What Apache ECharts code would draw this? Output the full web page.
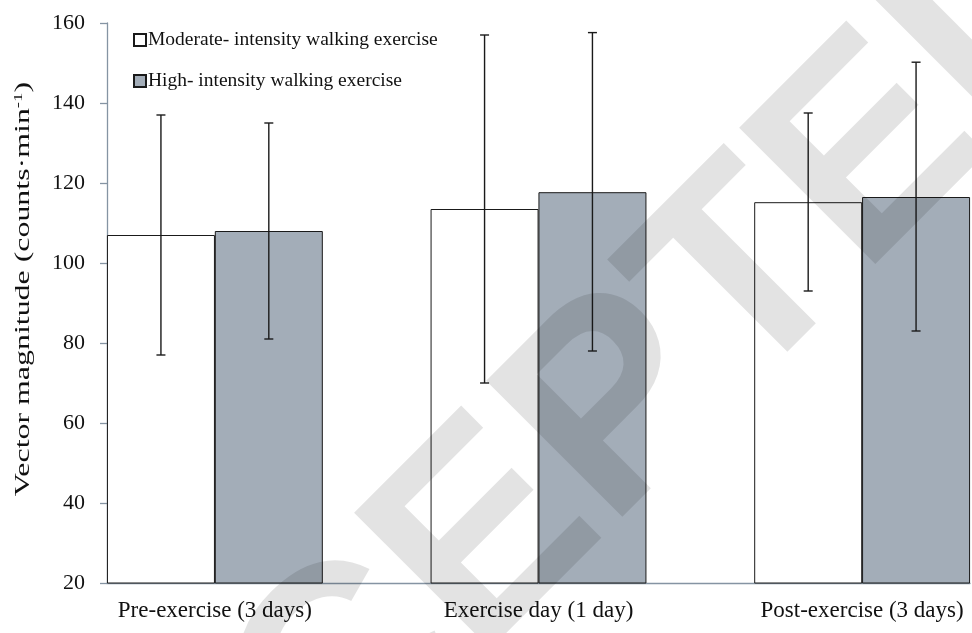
<!DOCTYPE html>
<html>
<head>
<meta charset="utf-8">
<script src="https://cdn.jsdelivr.net/npm/echarts@6/dist/echarts.min.js"></script>
<style>
  html, body { margin: 0; padding: 0; background: #fff; }
  #chart { width: 972px; height: 633px; }
</style>
</head>
<body>
<div id="chart"></div>
<script>
// group labels and values
const categories = ['Pre-exercise (3 days)', 'Exercise day (1 day)', 'Post-exercise (3 days)'];
const seriesNames = ['Moderate- intensity walking exercise', 'High- intensity walking exercise'];
const moderateMean = [107, 113.5, 115.2];
const moderateLow = [77, 70, 93];
const moderateHigh = [137, 157, 137.5];
const highMean = [108, 117.7, 116.5];
const highLow = [81, 78, 83];
const highHigh = [135, 157.6, 150.2];
const yTitle = 'Vector magnitude (counts·min{sup|-1})';
const watermark = 'ACCEPTED';

const serif = '"Liberation Serif", "Times New Roman", serif';
const axisColor = '#8594a3';
const ink = '#1a1a1a';
const shift = 1 / 6; // half a bar, in category units

function barData(means, dir) {
  return means.map((v, i) => [i + dir * shift, v]);
}
function errData(lows, highs, dir) {
  return lows.map((lo, i) => [i + dir * shift, lo, highs[i]]);
}

function renderErr(params, api) {
  const x = api.value(0);
  const lo = api.coord([x, api.value(1)]);
  const hi = api.coord([x, api.value(2)]);
  const cap = 4.5;
  const st = { stroke: ink, lineWidth: 1.4 };
  return {
    type: 'group',
    children: [
      { type: 'line', shape: { x1: lo[0], y1: lo[1], x2: hi[0], y2: hi[1] }, style: st },
      { type: 'line', shape: { x1: lo[0] - cap, y1: lo[1], x2: lo[0] + cap, y2: lo[1] }, style: st },
      { type: 'line', shape: { x1: hi[0] - cap, y1: hi[1], x2: hi[0] + cap, y2: hi[1] }, style: st }
    ]
  };
}

const chart = echarts.init(document.getElementById('chart'));
chart.setOption({
  backgroundColor: '#fff',
  animation: false,
  grid: {
    left: 107,
    right: 2,
    top: 23,
    bottom: 50,
    containLabel: false,
    outerBoundsMode: 'none'
  },
  legend: {
    data: seriesNames,
    orient: 'vertical',
    left: 133,
    top: 30,
    padding: 0,
    itemWidth: 12,
    itemHeight: 12,
    itemGap: 21,
    icon: 'rect',
    textStyle: {
      fontFamily: serif,
      fontSize: 19.5,
      color: '#111',
      padding: [0, 0, 0, -3]
    }
  },
  xAxis: {
    type: 'value',
    min: -1 / 3,
    max: 7 / 3,
    splitLine: { show: false },
    axisTick: { show: false },
    axisLine: {
      onZero: false,
      lineStyle: { color: axisColor, width: 1.3 }
    },
    axisLabel: {
      customValues: [0, 1, 2],
      formatter: function (v) {
        return categories[Math.round(v)];
      },
      fontFamily: serif,
      fontSize: 23,
      color: '#111',
      margin: 16
    }
  },
  yAxis: {
    type: 'value',
    min: 20,
    max: 160,
    interval: 20,
    splitLine: { show: false },
    axisLine: { show: true, onZero: false, lineStyle: { color: axisColor, width: 1.3 } },
    axisTick: { show: true, length: 7, lineStyle: { color: axisColor, width: 1.3 } },
    axisLabel: {
      fontFamily: serif,
      fontSize: 22,
      color: '#111',
      margin: 22
    }
  },
  series: [
    {
      name: seriesNames[0],
      type: 'bar',
      barWidth: 108,
      barGap: '-100%',
      data: barData(moderateMean, -1),
      itemStyle: { color: '#ffffff', borderColor: ink, borderWidth: 1 }
    },
    {
      name: seriesNames[1],
      type: 'bar',
      barWidth: 108,
      barGap: '-100%',
      data: barData(highMean, 1),
      itemStyle: { color: '#a3adb8', borderColor: ink, borderWidth: 1 }
    },
    {
      name: 'err-moderate',
      type: 'custom',
      z: 3,
      renderItem: renderErr,
      encode: { x: 0, y: [1, 2] },
      data: errData(moderateLow, moderateHigh, -1)
    },
    {
      name: 'err-high',
      type: 'custom',
      z: 3,
      renderItem: renderErr,
      encode: { x: 0, y: [1, 2] },
      data: errData(highLow, highHigh, 1)
    }
  ],
  graphic: [
    {
      // axis title, stretched along its length like the original
      type: 'text',
      x: 23,
      y: 289,
      rotation: Math.PI / 2,
      scaleX: 1.45,
      silent: true,
      style: {
        text: yTitle,
        font: '22px ' + serif,
        fill: '#111',
        align: 'center',
        verticalAlign: 'middle',
        rich: {
          sup: { font: '13px ' + serif, fill: '#111', verticalAlign: 'top', padding: [0, 0, 9, 0] }
        }
      }
    },
    {
      type: 'text',
      x: 538,
      y: 492,
      rotation: Math.PI / 4,
      z: 100,
      silent: true,
      style: {
        text: watermark,
        font: 'bold 280px "Liberation Sans", Arial, sans-serif',
        fill: 'rgba(0,0,0,0.11)',
        align: 'center',
        verticalAlign: 'middle'
      }
    }
  ]
});
</script>
</body>
</html>
